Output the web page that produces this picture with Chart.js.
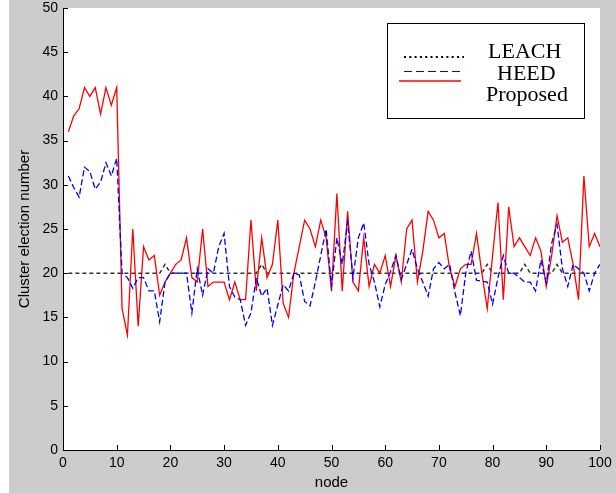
<!DOCTYPE html>
<html>
<head>
<meta charset="utf-8">
<title>Cluster election number</title>
<script src="https://cdn.jsdelivr.net/npm/chart.js@4/dist/chart.umd.min.js"></script>
<style>
    html, body { margin: 0; padding: 0; background: #fff; }
    #wrap { width: 616px; height: 493px; }
</style>
</head>
<body>
<div id="wrap"><canvas id="chart" width="616" height="493"></canvas></div>
<script>
// Node index (x axis)
const nodes = [
    1, 2, 3, 4, 5, 6, 7, 8, 9, 10, 11, 12, 13, 14, 15, 16, 17, 18, 19, 20,
    21, 22, 23, 24, 25, 26, 27, 28, 29, 30, 31, 32, 33, 34, 35, 36, 37, 38, 39, 40,
    41, 42, 43, 44, 45, 46, 47, 48, 49, 50, 51, 52, 53, 54, 55, 56, 57, 58, 59, 60,
    61, 62, 63, 64, 65, 66, 67, 68, 69, 70, 71, 72, 73, 74, 75, 76, 77, 78, 79, 80,
    81, 82, 83, 84, 85, 86, 87, 88, 89, 90, 91, 92, 93, 94, 95, 96, 97, 98, 99, 100
];

// LEACH - almost flat at 20
const leach = [
    20, 20, 20, 20, 20, 20, 20, 20, 20, 20, 20, 20, 20, 20, 20, 20, 20, 20, 21, 20,
    20, 20, 20, 20, 20, 20, 20, 20, 20, 20, 20, 20, 20, 20, 20, 20, 21, 20, 20, 20,
    20, 20, 20, 20, 20, 20, 20, 20, 20, 20, 20, 20, 20, 20, 20, 20, 20, 20, 20, 20,
    20, 20, 20, 20, 20, 20, 20, 20, 20, 20, 20, 20, 20, 20, 20, 20, 20, 20, 21, 20,
    20, 20, 20, 20, 20, 21, 20, 20, 20, 20, 20, 21, 20, 20, 20, 20, 20, 20, 20, 20
];

// HEED
const heed = [
    31, 29.7, 28.6, 32, 31.5, 29.5, 30.3, 32.5, 31, 33,
    20, 19.5, 18.3, 19.5, 19.5, 18, 18, 14.5, 19, 20,
    20, 20, 20, 15.5, 20.5, 17.5, 20.5, 20, 23, 24.5,
    18.5, 17.3, 17, 14.1, 15.5, 19.5, 17.4, 18.3, 14.1, 16.4,
    18.7, 18, 20, 19.8, 16.8, 16.3, 19, 22, 25, 18.5,
    24, 21, 25.8, 19.5, 24, 25.7, 21, 19, 16.2, 18.7,
    20.2, 22, 19.3, 21, 22.7, 20.5, 19, 17.4, 20.5, 21.2,
    20.5, 21, 17.8, 15.2, 20, 22.5, 19.2, 19.1, 19, 16.5,
    19.5, 22, 20, 20, 19.5, 19, 19, 18, 21.5, 18.9,
    23.4, 25.5, 20.5, 18.5, 21, 20.5, 20, 18, 20, 21
];

// Proposed
const proposed = [
    36, 37.8, 38.6, 41, 40, 41, 38, 41, 39, 41,
    16, 13, 25, 14, 23, 21.5, 22, 17.5, 19, 20,
    21, 21.5, 24, 19.5, 19, 25, 18.5, 19, 19, 19,
    17, 19, 17, 17, 26, 18, 24, 19.5, 21, 26,
    16.6, 15, 20, 23, 26, 25, 23, 26, 24, 18,
    29, 18, 27, 19, 18, 24, 18.5, 21, 20, 22,
    18.5, 22, 19, 25, 26, 19, 22.5, 27, 26, 24,
    24.5, 20.5, 18.5, 20.5, 21, 21, 24.5, 20, 16, 22,
    28, 17, 27.5, 23, 24, 23, 22, 24, 22.5, 18.5,
    22, 26.5, 23.5, 24, 21, 17, 31, 23, 24.5, 23
];

// Tick labels
const xTicks = [0, 10, 20, 30, 40, 50, 60, 70, 80, 90, 100];
const yTicks = [0, 5, 10, 15, 20, 25, 30, 35, 40, 45, 50];

const sansFont = 'Liberation Sans';
const serifFont = 'Liberation Serif';

function toPoints(values) {
    return values.map((v, i) => ({ x: nodes[i], y: v }));
}

// Grey figure, white axes, inward ticks and the boxed legend
const framePlugin = {
    id: 'frame',
    beforeDraw(chart) {
        const { ctx, chartArea: a, width, height } = chart;
        ctx.save();
        ctx.fillStyle = '#ffffff';
        ctx.fillRect(0, 0, width, height);
        ctx.fillStyle = '#cccccc';
        ctx.fillRect(9, 0, width - 9, height);
        ctx.fillStyle = '#ffffff';
        ctx.fillRect(a.left, a.top, a.right - a.left, a.bottom - a.top);
        ctx.restore();
    },
    afterDraw(chart) {
        const { ctx, chartArea: a } = chart;
        const xs = chart.scales.x;
        const ys = chart.scales.y;
        const tick = 5;

        ctx.save();
        ctx.strokeStyle = '#000';
        ctx.lineWidth = 1;
        ctx.beginPath();
        ctx.moveTo(a.left + 0.5, a.top);
        ctx.lineTo(a.left + 0.5, a.bottom + 0.5);
        ctx.lineTo(a.right, a.bottom + 0.5);
        xTicks.forEach(v => {
            const px = Math.round(xs.getPixelForValue(v)) + 0.5;
            ctx.moveTo(px, a.bottom);
            ctx.lineTo(px, a.bottom - tick);
        });
        yTicks.forEach(v => {
            const py = Math.round(ys.getPixelForValue(v)) + 0.5;
            ctx.moveTo(a.left, py);
            ctx.lineTo(a.left + tick, py);
        });
        ctx.stroke();

        // Legend box
        const bx = 387, by = 23, bw = 197, bh = 95;
        ctx.fillStyle = '#ffffff';
        ctx.fillRect(bx, by, bw, bh);
        ctx.strokeStyle = '#000';
        ctx.strokeRect(bx + 0.5, by + 0.5, bw, bh);

        // LEACH sample: dotted black
        ctx.beginPath();
        ctx.lineWidth = 2;
        ctx.setLineDash([2, 3.3]);
        ctx.strokeStyle = '#000';
        ctx.moveTo(404, 57);
        ctx.lineTo(464, 57);
        ctx.stroke();

        // HEED sample: dashed blue
        ctx.beginPath();
        ctx.lineWidth = 1;
        ctx.setLineDash([8, 4]);
        ctx.strokeStyle = '#0000ff';
        ctx.moveTo(404, 71.5);
        ctx.lineTo(460, 71.5);
        ctx.stroke();

        // Proposed sample: solid red
        ctx.beginPath();
        ctx.lineWidth = 1.5;
        ctx.setLineDash([]);
        ctx.strokeStyle = '#ff0000';
        ctx.moveTo(399, 81);
        ctx.lineTo(461, 81);
        ctx.stroke();

        ctx.fillStyle = '#000';
        ctx.font = '22px "' + serifFont + '"';
        ctx.textBaseline = 'alphabetic';
        ctx.textAlign = 'left';
        ctx.fillText('LEACH', 488, 58);
        ctx.fillText('HEED', 497, 79.5);
        ctx.fillText('Proposed', 486, 100.5);
        ctx.restore();
    }
};

function buildChart() {
    const ctx = document.getElementById('chart').getContext('2d');

    return new Chart(ctx, {
        type: 'line',
        data: {
            datasets: [
                {
                    label: 'LEACH',
                    data: toPoints(leach),
                    borderColor: '#333333',
                    borderWidth: 1.5,
                    borderDash: [4, 3],
                    pointRadius: 0,
                    tension: 0,
                    order: 3
                },
                {
                    label: 'HEED',
                    data: toPoints(heed),
                    borderColor: '#0000ff',
                    borderWidth: 1.3,
                    borderDash: [6, 3],
                    pointRadius: 0,
                    tension: 0,
                    order: 1
                },
                {
                    label: 'Proposed',
                    data: toPoints(proposed),
                    borderColor: '#ff0000',
                    borderWidth: 1.3,
                    pointRadius: 0,
                    tension: 0,
                    order: 2
                }
            ]
        },
        options: {
            responsive: false,
            animation: false,
            events: [],
            layout: {
                padding: { left: 0, right: 16, top: 8, bottom: 0 }
            },
            plugins: {
                legend: { display: false },
                tooltip: { enabled: false }
            },
            scales: {
                x: {
                    type: 'linear',
                    min: 0,
                    max: 100,
                    afterBuildTicks: s => { s.ticks = xTicks.map(v => ({ value: v })); },
                    afterFit: s => {
                        s.height = 43;
                        s.paddingLeft = 0;
                        s.paddingRight = 0;
                    },
                    grid: { display: false, drawTicks: false },
                    border: { display: false },
                    ticks: {
                        padding: 5,
                        color: '#000',
                        autoSkip: false,
                        maxRotation: 0,
                        font: { family: sansFont, size: 14 }
                    },
                    title: {
                        display: true,
                        text: 'node',
                        color: '#000',
                        font: { family: sansFont, size: 15 },
                        padding: { top: 0, bottom: 1 }
                    }
                },
                y: {
                    type: 'linear',
                    min: 0,
                    max: 50,
                    afterBuildTicks: s => { s.ticks = yTicks.map(v => ({ value: v })); },
                    afterFit: s => {
                        s.width = 63;
                        s.paddingTop = 0;
                        s.paddingBottom = 0;
                    },
                    grid: { display: false, drawTicks: false },
                    border: { display: false },
                    ticks: {
                        padding: 5,
                        color: '#000',
                        font: { family: sansFont, size: 14 }
                    },
                    title: {
                        display: true,
                        text: 'Cluster election number',
                        color: '#000',
                        font: { family: sansFont, size: 15 },
                        padding: { top: 16, bottom: 0 }
                    }
                }
            }
        },
        plugins: [framePlugin]
    });
}

buildChart();
</script>
</body>
</html>
